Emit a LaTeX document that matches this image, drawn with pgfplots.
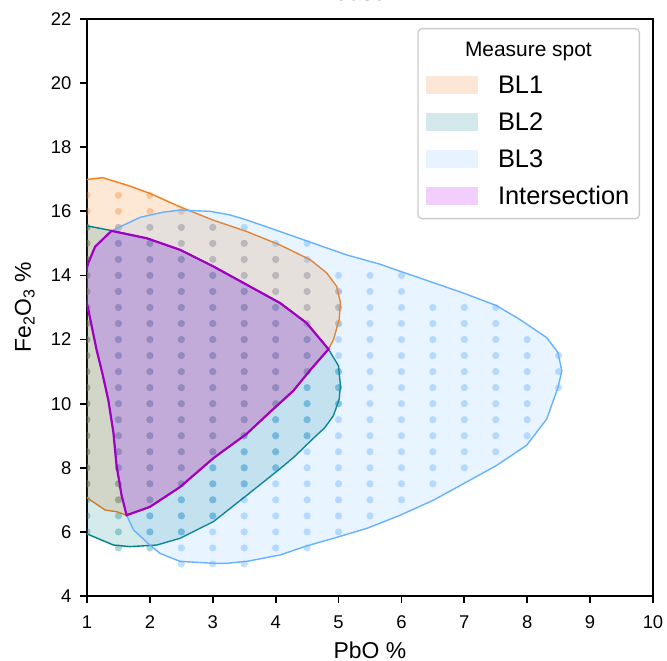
\documentclass[border=0pt]{standalone}
\usepackage{pgfplots}
\pgfplotsset{compat=1.18}
\usepackage{fontspec}
\setmainfont{Liberation Sans}
\definecolor{cOne}{HTML}{F27F1B}
\definecolor{cTwo}{HTML}{00808A}
\definecolor{cThree}{HTML}{66B2FF}
\definecolor{cInt}{HTML}{A000C0}
\definecolor{cIntFill}{RGB}{200,60,240}
\begin{document}
\begin{tikzpicture}
\begin{axis}[
  at={(0,0)}, anchor=south west,
  scale only axis, width=566bp, height=577bp,
  xmin=1, xmax=10, ymin=4, ymax=22,
  xtick={1,2,3,4,5,6,7,8,9,10},
  ytick={4,6,8,10,12,14,16,18,20,22},
  tick pos=left, tick align=outside,
  major tick length=7bp,
  every tick/.style={black, line width=1.8bp},
  axis line style={line width=2.4bp, black},
  /pgf/number format/assume math mode=true,
  tick label style={font=\fontsize{18.5}{22}\selectfont},
  xticklabel style={yshift=-9bp},
  yticklabel style={xshift=-5bp},
  label style={font=\fontsize{23}{27}\selectfont},
  xlabel={PbO \%},
  ylabel={Fe\textsubscript{2}O\textsubscript{3} \%},
  xlabel style={at={(axis description cs:0.5,0)}, anchor=base, yshift=-62bp},
  ylabel style={at={(axis description cs:-0.099,0.5)}, anchor=base},
  title={Case A},
  title style={at={(axis description cs:0.5,1)}, anchor=base, yshift=13bp, font=\fontsize{23}{27}\selectfont},
  clip marker paths=true,
  legend style={at={(rel axis cs:1,1)}, anchor=north east, xshift=-13bp, yshift=-9bp,
    draw=black!20, draw opacity=1, line width=1.3bp, rounded corners=4bp, fill=white, fill opacity=0.85, text opacity=1,
    font=\fontsize{25.5}{30}\selectfont, row sep=15bp, inner xsep=8bp, inner ysep=11.5bp,
    nodes={inner sep=2bp, text height=17bp, text depth=1bp},
    /tikz/every odd column/.append style={column sep=18bp}},
  legend cell align=left,
  legend image code/.code={\fill[#1,draw=none,sharp corners] (0bp,-9bp) rectangle (52bp,9bp);},
]
% ---- measured spots (dots) ----
\addplot[color=cOne, only marks, mark=*, mark size=3.6bp, forget plot, mark options={draw opacity=0, fill=cOne, fill opacity=0.33}] coordinates {
(1,7.5)(1,8)(1,8.5)(1,9)(1,9.5)(1,10)(1,10.5)(1,11)(1,11.5)(1,12)(1,12.5)(1,13)(1,13.5)(1,14)(1,14.5)(1,15)(1,15.5)(1,16)(1,16.5)
(1.5,7)(1.5,7.5)(1.5,8)(1.5,8.5)(1.5,9)(1.5,9.5)(1.5,10)(1.5,10.5)(1.5,11)(1.5,11.5)(1.5,12)(1.5,12.5)(1.5,13)(1.5,13.5)(1.5,14)(1.5,14.5)(1.5,15)(1.5,15.5)(1.5,16)(1.5,16.5)
(2,7)(2,7.5)(2,8)(2,8.5)(2,9)(2,9.5)(2,10)(2,10.5)(2,11)(2,11.5)(2,12)(2,12.5)(2,13)(2,13.5)(2,14)(2,14.5)(2,15)(2,15.5)(2,16)(2,16.5)
(2.5,7.5)(2.5,8)(2.5,8.5)(2.5,9)(2.5,9.5)(2.5,10)(2.5,10.5)(2.5,11)(2.5,11.5)(2.5,12)(2.5,12.5)(2.5,13)(2.5,13.5)(2.5,14)(2.5,14.5)(2.5,15)(2.5,15.5)(2.5,16)
(3,8.5)(3,9)(3,9.5)(3,10)(3,10.5)(3,11)(3,11.5)(3,12)(3,12.5)(3,13)(3,13.5)(3,14)(3,14.5)(3,15)(3,15.5)
(3.5,9)(3.5,9.5)(3.5,10)(3.5,10.5)(3.5,11)(3.5,11.5)(3.5,12)(3.5,12.5)(3.5,13)(3.5,13.5)(3.5,14)(3.5,14.5)(3.5,15)
(4,10)(4,10.5)(4,11)(4,11.5)(4,12)(4,12.5)(4,13)(4,13.5)(4,14)(4,14.5)
(4.5,11)(4.5,11.5)(4.5,12)(4.5,12.5)(4.5,13)(4.5,13.5)(4.5,14)
(5,12.5)(5,13)(5,13.5)
};
\addplot[color=cTwo, only marks, mark=*, mark size=3.6bp, forget plot, mark options={draw opacity=0, fill=cTwo, fill opacity=0.33}] coordinates {
(1,6)(1,6.5)(1,7)(1,7.5)(1,8)(1,8.5)(1,9)(1,9.5)(1,10)(1,10.5)(1,11)(1,11.5)(1,12)(1,12.5)(1,13)(1,13.5)(1,14)(1,14.5)(1,15)(1,15.5)
(1.5,5.5)(1.5,6)(1.5,6.5)(1.5,7)(1.5,7.5)(1.5,8)(1.5,8.5)(1.5,9)(1.5,9.5)(1.5,10)(1.5,10.5)(1.5,11)(1.5,11.5)(1.5,12)(1.5,12.5)(1.5,13)(1.5,13.5)(1.5,14)(1.5,14.5)(1.5,15)
(2,5.5)(2,6)(2,6.5)(2,7)(2,7.5)(2,8)(2,8.5)(2,9)(2,9.5)(2,10)(2,10.5)(2,11)(2,11.5)(2,12)(2,12.5)(2,13)(2,13.5)(2,14)(2,14.5)(2,15)
(2.5,6)(2.5,6.5)(2.5,7)(2.5,7.5)(2.5,8)(2.5,8.5)(2.5,9)(2.5,9.5)(2.5,10)(2.5,10.5)(2.5,11)(2.5,11.5)(2.5,12)(2.5,12.5)(2.5,13)(2.5,13.5)(2.5,14)(2.5,14.5)
(3,6.5)(3,7)(3,7.5)(3,8)(3,8.5)(3,9)(3,9.5)(3,10)(3,10.5)(3,11)(3,11.5)(3,12)(3,12.5)(3,13)(3,13.5)(3,14)
(3.5,7.5)(3.5,8)(3.5,8.5)(3.5,9)(3.5,9.5)(3.5,10)(3.5,10.5)(3.5,11)(3.5,11.5)(3.5,12)(3.5,12.5)(3.5,13)(3.5,13.5)
(4,8)(4,8.5)(4,9)(4,9.5)(4,10)(4,10.5)(4,11)(4,11.5)(4,12)(4,12.5)(4,13)
(4.5,9)(4.5,9.5)(4.5,10)(4.5,10.5)(4.5,11)(4.5,11.5)(4.5,12)
(5,10)(5,10.5)(5,11)
};
\addplot[color=cThree, only marks, mark=*, mark size=3.6bp, forget plot, mark options={draw opacity=0, fill=cThree, fill opacity=0.4}] coordinates {
(1.5,8)(1.5,8.5)(1.5,9)(1.5,9.5)(1.5,10)(1.5,10.5)(1.5,11)(1.5,11.5)(1.5,12)(1.5,12.5)(1.5,13)(1.5,13.5)(1.5,14)(1.5,14.5)(1.5,15)(1.5,15.5)
(2,6)(2,6.5)(2,7)(2,7.5)(2,8)(2,8.5)(2,9)(2,9.5)(2,10)(2,10.5)(2,11)(2,11.5)(2,12)(2,12.5)(2,13)(2,13.5)(2,14)(2,14.5)(2,15)(2,15.5)
(2.5,5)(2.5,5.5)(2.5,6)(2.5,6.5)(2.5,7)(2.5,7.5)(2.5,8)(2.5,8.5)(2.5,9)(2.5,9.5)(2.5,10)(2.5,10.5)(2.5,11)(2.5,11.5)(2.5,12)(2.5,12.5)(2.5,13)(2.5,13.5)(2.5,14)(2.5,14.5)(2.5,15)(2.5,15.5)
(3,5)(3,5.5)(3,6)(3,6.5)(3,7)(3,7.5)(3,8)(3,8.5)(3,9)(3,9.5)(3,10)(3,10.5)(3,11)(3,11.5)(3,12)(3,12.5)(3,13)(3,13.5)(3,14)(3,14.5)(3,15)(3,15.5)
(3.5,5)(3.5,5.5)(3.5,6)(3.5,6.5)(3.5,7)(3.5,7.5)(3.5,8)(3.5,8.5)(3.5,9)(3.5,9.5)(3.5,10)(3.5,10.5)(3.5,11)(3.5,11.5)(3.5,12)(3.5,12.5)(3.5,13)(3.5,13.5)(3.5,14)(3.5,14.5)(3.5,15)(3.5,15.5)
(4,5.5)(4,6)(4,6.5)(4,7)(4,7.5)(4,8)(4,8.5)(4,9)(4,9.5)(4,10)(4,10.5)(4,11)(4,11.5)(4,12)(4,12.5)(4,13)(4,13.5)(4,14)(4,14.5)(4,15)
(4.5,5.5)(4.5,6)(4.5,6.5)(4.5,7)(4.5,7.5)(4.5,8)(4.5,8.5)(4.5,9)(4.5,9.5)(4.5,10)(4.5,10.5)(4.5,11)(4.5,11.5)(4.5,12)(4.5,12.5)(4.5,13)(4.5,13.5)(4.5,14)(4.5,14.5)(4.5,15)
(5,6)(5,6.5)(5,7)(5,7.5)(5,8)(5,8.5)(5,9)(5,9.5)(5,10)(5,10.5)(5,11)(5,11.5)(5,12)(5,12.5)(5,13)(5,13.5)(5,14)
(5.5,6.5)(5.5,7)(5.5,7.5)(5.5,8)(5.5,8.5)(5.5,9)(5.5,9.5)(5.5,10)(5.5,10.5)(5.5,11)(5.5,11.5)(5.5,12)(5.5,12.5)(5.5,13)(5.5,13.5)(5.5,14)
(6,7)(6,7.5)(6,8)(6,8.5)(6,9)(6,9.5)(6,10)(6,10.5)(6,11)(6,11.5)(6,12)(6,12.5)(6,13)(6,13.5)(6,14)
(6.5,7.5)(6.5,8)(6.5,8.5)(6.5,9)(6.5,9.5)(6.5,10)(6.5,10.5)(6.5,11)(6.5,11.5)(6.5,12)(6.5,12.5)(6.5,13)
(7,8)(7,8.5)(7,9)(7,9.5)(7,10)(7,10.5)(7,11)(7,11.5)(7,12)(7,12.5)(7,13)
(7.5,8.5)(7.5,9)(7.5,9.5)(7.5,10)(7.5,10.5)(7.5,11)(7.5,11.5)(7.5,12)(7.5,12.5)(7.5,13)
(8,9)(8,9.5)(8,10)(8,10.5)(8,11)(8,11.5)(8,12)
(8.5,10.5)(8.5,11)(8.5,11.5)
};
% ---- legend title ----
\addlegendimage{empty legend}
\addlegendentry[font=\fontsize{21}{25}\selectfont, text height=14bp]{\hspace*{-33bp}Measure spot}
% ---- regions ----
\addplot[draw=cOne, line width=1.4bp, fill=cOne, fill opacity=0.18] coordinates {
(0.7,16.9)(1.02,17.0)(1.25,17.05)(1.68,16.79)(2.0,16.56)(2.48,16.14)(3.0,15.73)(3.54,15.37)(4.07,14.95)(4.55,14.49)(4.81,14.08)(4.97,13.66)(5.03,13.15)(5.01,12.63)(4.92,12.0)(4.84,11.7)(4.55,11.05)(4.28,10.4)(3.9,9.72)(3.54,9.06)(3.01,8.3)(2.48,7.4)(2.0,6.78)(1.63,6.52)(1.47,6.63)(1.29,6.68)(1.02,7.04)(0.7,7.4)
} -- cycle;
\addlegendentry{BL1}
\addplot[draw=cTwo, line width=1.4bp, fill=cTwo, fill opacity=0.17] coordinates {
(0.7,15.56)(1.02,15.54)(1.39,15.4)(1.95,15.16)(2.48,14.8)(3.01,14.28)(3.54,13.71)(4.07,13.14)(4.49,12.52)(4.84,11.7)(5.0,11.18)(5.03,10.56)(5.01,10.14)(4.92,9.63)(4.78,9.25)(4.6,8.92)(4.3,8.35)(4.07,7.97)(3.54,7.14)(3.01,6.32)(2.48,5.8)(2.11,5.59)(1.68,5.54)(1.42,5.59)(1.02,5.92)(0.7,6.2)
} -- cycle;
\addlegendentry{BL2}
\addplot[draw=cThree, line width=1.4bp, fill=cThree, fill opacity=0.15] coordinates {
(1.39,15.39)(1.84,15.81)(2.2,15.97)(2.48,16.04)(2.96,16.0)(3.27,15.89)(3.54,15.73)(4.07,15.37)(4.49,15.08)(5.13,14.64)(5.66,14.35)(5.98,14.13)(6.5,13.78)(7.0,13.44)(7.51,13.06)(7.88,12.63)(8.31,12.06)(8.49,11.59)(8.55,11.02)(8.49,10.51)(8.31,9.52)(7.99,8.7)(7.51,8.07)(7.04,7.56)(6.51,6.99)(5.98,6.52)(5.45,6.11)(4.92,5.8)(4.49,5.56)(4.07,5.28)(3.54,5.08)(3.22,5.02)(3.01,5.02)(2.48,5.08)(2.16,5.33)(2.0,5.59)(1.74,6.06)(1.63,6.52)(1.55,7.14)(1.47,8.07)(1.42,9.1)(1.34,10.1)(1.25,10.9)(1.15,11.7)(1.02,12.94)(0.92,13.7)(1.02,14.39)(1.13,14.9)
} -- cycle;
\addlegendentry{BL3}
\addplot[draw=cInt, line width=2.2bp, fill=cIntFill, fill opacity=0.25] coordinates {
(1.39,15.39)(1.95,15.16)(2.48,14.8)(3.01,14.28)(3.54,13.71)(4.07,13.14)(4.49,12.52)(4.84,11.7)(4.55,11.05)(4.28,10.4)(3.9,9.72)(3.54,9.06)(3.01,8.3)(2.48,7.4)(2.0,6.78)(1.63,6.52)(1.55,7.14)(1.47,8.07)(1.42,9.1)(1.34,10.1)(1.25,10.9)(1.15,11.7)(1.02,12.94)(0.92,13.7)(1.02,14.39)(1.13,14.9)
} -- cycle;
\addlegendentry{Intersection}
\end{axis}
\pgfresetboundingbox
\path[use as bounding box] (-87bp,-65bp) rectangle (580bp,596bp);
\end{tikzpicture}
\end{document}
